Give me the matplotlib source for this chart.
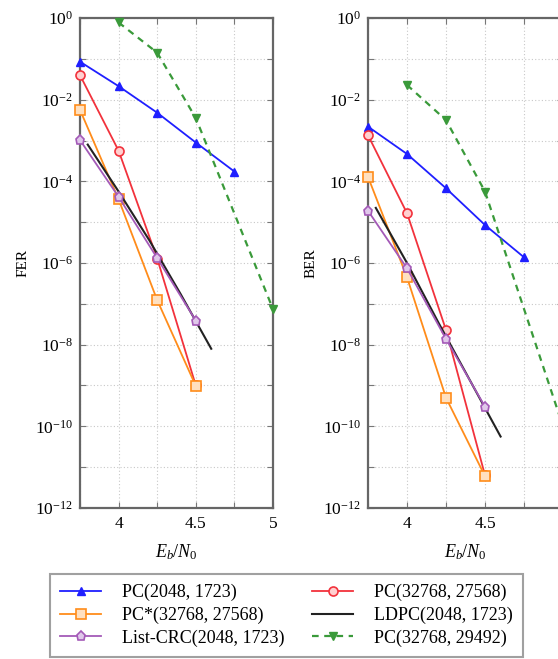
import numpy as np
import matplotlib
matplotlib.use("Agg")
import matplotlib.pyplot as plt
from matplotlib.ticker import FixedLocator, FuncFormatter

plt.rcParams['font.family'] = ['Liberation Serif', 'DejaVu Serif']
plt.rcParams['mathtext.fontset'] = 'custom'
plt.rcParams['mathtext.rm'] = 'Liberation Serif'
plt.rcParams['mathtext.it'] = 'Liberation Serif:italic'
plt.rcParams['mathtext.bf'] = 'Liberation Serif:bold'

# ---------------- data (log10 values) ----------------
ebn0 = [3.75, 4.0, 4.25, 4.5, 4.75]
ebn0_4 = [3.75, 4.0, 4.25, 4.5]
ldpc_x = [3.8, 4.0, 4.2, 4.4, 4.6]
green_x = [4.0, 4.25, 4.5, 5.0]

fer_pc2048 = [-1.07, -1.67, -2.32, -3.05, -3.76]
fer_pc32768 = [-1.40, -3.25, -5.89, -9.0]
fer_pcstar = [-2.25, -4.44, -6.91, -9.01]
fer_listcrc = [-2.99, -4.38, -5.88, -7.41]
fer_ldpc = [-3.1, -4.25, -5.45, -6.75, -8.1]
fer_pc29492 = [-0.11, -0.85, -2.45, -7.13]

ber_pc2048 = [-2.66, -3.33, -4.17, -5.07, -5.86]
ber_pc32768 = [-2.87, -4.78, -7.64, -11.2]
ber_pcstar = [-3.89, -6.35, -9.30, -11.22]
ber_listcrc = [-4.72, -6.13, -7.86, -9.52]
ber_ldpc = [-4.65, -6.0, -7.45, -8.85, -10.25]
ber_pc29492 = [-1.64, -2.50, -4.25, -10.0]

labels = ["PC(2048, 1723)", "PC(32768, 27568)", "PC*(32768, 27568)",
          "LDPC(2048, 1723)", "List-CRC(2048, 1723)", "PC(32768, 29492)"]

BLUE = '#1f1fff'
RED = '#f2323c'
ORANGE = '#ff8c1a'
PURPLE = '#a45ab8'
BLACK = '#222222'
GREEN = '#3a9a3a'

fig = plt.figure(figsize=(5.58, 6.59), dpi=100)
axL = fig.add_axes([80/558, 1-508/659, 193/558, 490/659])
axR = fig.add_axes([368/558, 1-508/659, 195/558, 490/659])

def p(v):
    return 10.0 ** np.array(v)

def draw(ax, d):
    h = []
    kw = dict(clip_on=False, zorder=3)
    h.append(ax.plot(ebn0, p(d[0]), color=BLUE, lw=1.3, marker='^', ms=6,
                     mfc=BLUE, mec=BLUE, label=labels[0], **kw)[0])
    h.append(ax.plot(ebn0_4, p(d[1]), color=RED, lw=1.3, marker='o', ms=6.5,
                     mfc='#ffd0d0', mec=RED, mew=1.2, label=labels[1], **kw)[0])
    h.append(ax.plot(ebn0_4, p(d[2]), color=ORANGE, lw=1.3, marker='s', ms=6.5,
                     mfc='#ffe0c0', mec=ORANGE, mew=1.2, label=labels[2], **kw)[0])
    h.append(ax.plot(ldpc_x, p(d[4]), color=BLACK, lw=1.5, label=labels[3], **kw)[0])
    h.append(ax.plot(ebn0_4, p(d[3]), color=PURPLE, lw=1.3, marker='p', ms=6.5,
                     mfc='#e0c8ea', mec=PURPLE, mew=1.2, label=labels[4], **kw)[0])
    h.append(ax.plot(green_x, p(d[5]), color=GREEN, lw=1.6, ls=(0, (3, 2.5)),
                     marker='v', ms=6, mfc=GREEN, mec=GREEN, label=labels[5], **kw)[0])
    return h

handles = draw(axL, [fer_pc2048, fer_pc32768, fer_pcstar, fer_listcrc, fer_ldpc, fer_pc29492])
draw(axR, [ber_pc2048, ber_pc32768, ber_pcstar, ber_listcrc, ber_ldpc, ber_pc29492])

def yfmt(v, pos):
    e = int(round(np.log10(v)))
    if e % 2 == 0:
        return r'$10^{%d}$' % e
    return ''

def xfmt(v, pos):
    if abs(v - 4) < 1e-6:
        return '4'
    if abs(v - 4.5) < 1e-6:
        return '4.5'
    if abs(v - 5) < 1e-6:
        return '5'
    return ''

for ax, yl in [(axL, 'FER'), (axR, 'BER')]:
    ax.set_yscale('log')
    ax.set_xlim(3.75, 5.0)
    ax.set_ylim(1e-12, 1.0)
    ax.yaxis.set_major_locator(FixedLocator([10.0**e for e in range(-12, 1)]))
    ax.yaxis.set_minor_locator(FixedLocator([]))
    ax.yaxis.set_major_formatter(FuncFormatter(yfmt))
    ax.xaxis.set_major_locator(FixedLocator([3.75, 4.0, 4.25, 4.5, 4.75, 5.0]))
    ax.xaxis.set_major_formatter(FuncFormatter(xfmt))
    ax.tick_params(direction='in', length=4, width=0.8, color='#777777',
                   top=True, right=True, labelsize=12.5, pad=6)
    ax.tick_params(axis='y', labelsize=12.5, pad=5)
    ax.grid(True, which='major', color='#c8c8c8', ls=(0, (1, 2)), lw=0.8)
    for s in ax.spines.values():
        s.set_color('#666666')
        s.set_linewidth(1.6)
    ax.set_ylabel(yl, fontsize=11, labelpad=4)
    ax.set_xlabel(r'$E_b/N_0$', fontsize=13, labelpad=7)
    ax.set_axisbelow(True)

order = [0, 2, 4, 1, 3, 5]
leg = fig.legend([handles[i] for i in order], [labels[i] for i in order],
                 ncol=2, loc='upper left', bbox_to_anchor=(50/558, 1-574/659),
                 fontsize=13, frameon=True, fancybox=False, edgecolor='#888888',
                 handlelength=2.3, columnspacing=1.5, borderpad=0.55,
                 labelspacing=0.3, handletextpad=1.15, borderaxespad=0)
leg.get_frame().set_linewidth(1.5)

fig.savefig('out.png', dpi=100)
